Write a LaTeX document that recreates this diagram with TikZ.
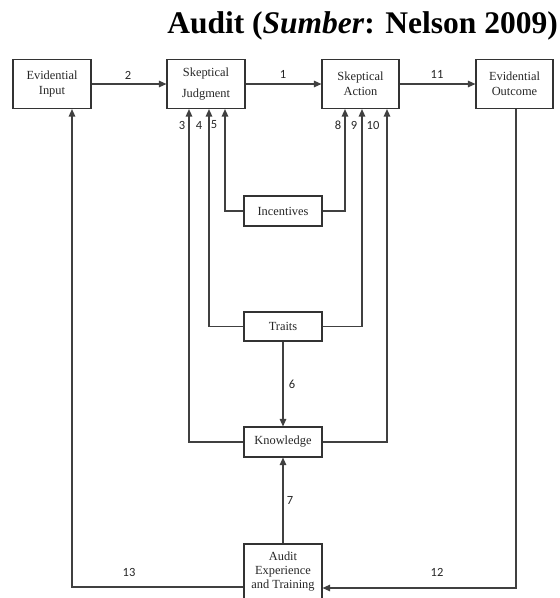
\documentclass[tikz,border=0pt]{standalone}
\usepackage{fontspec}
\setmainfont{Liberation Serif}
\newfontfamily\numfont{Carlito}
\usetikzlibrary{arrows.meta}

\tikzset{
  box/.style={draw=black!80, line width=1.1pt, rectangle, minimum width=78pt,
    inner sep=0pt, align=center, text=black!85, font=\fontsize{12.4}{14.5}\selectfont},
  arr/.style={draw=black!75, line width=1.3pt,
    -{Triangle[length=7.5pt,width=6.5pt]}},
  num/.style={font=\numfont\fontsize{12.5}{14}\selectfont, text=black!85, inner sep=0pt},
}

\begin{document}
\begin{tikzpicture}[x=1pt,y=-1pt]
  \useasboundingbox (0,0) rectangle (560,598);
  \clip (0,0) rectangle (560,598);

  % title
  \node[anchor=base east, inner sep=0pt, font=\fontsize{31.5}{36}\selectfont\bfseries]
    (title) at (558,33) {Audit (\textit{Sumber}: Nelson 2009)};

  % top row
  \node[box, minimum height=49pt] (ei) at (52,84) {Evidential\\Input};
  \node[box, minimum height=49pt] (sj) at (206,84) {Skeptical\\[6pt]Judgment};
  \node[box, minimum height=49pt, minimum width=77pt] (sa) at (360.5,84) {Skeptical\\Action};
  \node[box, minimum height=49pt, minimum width=77pt] (eo) at (514.5,84) {Evidential\\Outcome};

  % middle column
  \node[box, minimum height=30pt] (inc) at (283,211) {Incentives};
  \node[box, minimum height=29pt] (tr) at (283,326.5) {Traits};
  \node[box, minimum height=30pt] (kn) at (283,442) {Knowledge};
  \node[box, minimum height=70pt] (au) at (283,579) {};
  \node[align=center, inner sep=0pt, text=black!85, font=\fontsize{12.4}{14}\selectfont]
    (autext) at (283,572) {Audit\\Experience\\and Training};

  % feedback corners
  \coordinate (c13) at (72,587);
  \coordinate (c12) at (516,588);

  % main chain
  \draw[arr] (ei.east) -- (sj.west);
  \draw[arr] (sj.east) -- (sa.west);
  \draw[arr] (sa.east) -- (eo.west);

  % incentives, traits, knowledge into judgment and action
  \draw[arr] (inc.west) -| ([xshift=19pt]sj.south);
  \draw[arr] (inc.east) -| ([xshift=-15.5pt]sa.south);
  \draw[arr] (tr.west) -| ([xshift=3pt]sj.south);
  \draw[arr] (tr.east) -| ([xshift=1.5pt]sa.south);
  \draw[arr] (kn.west) -| ([xshift=-17pt]sj.south);
  \draw[arr] (kn.east) -| ([xshift=26.5pt]sa.south);

  % traits to knowledge, experience to knowledge
  \draw[arr] (tr.south) -- (kn.north);
  \draw[arr] (au.north) -- (kn.south);

  % feedback loops
  \draw[arr] (au.west |- c13) -| ([xshift=20pt]ei.south);
  \draw[arr] ([xshift=1.5pt]eo.south) -- (c12) -- (au.east |- c12);

  % connector numbers
  \node[num] (n2) at (128,75) {2};
  \node[num] (n1) at (283,74) {1};
  \node[num] (n11) at (437,74) {11};
  \node[num] (n3) at (182,125) {3};
  \node[num] (n4) at (199,125) {4};
  \node[num] (n5) at (214,125) {5};
  \node[num] (n8) at (338,125) {8};
  \node[num] (n9) at (354,125) {9};
  \node[num] (n10) at (373,125) {10};
  \node[num] (n6) at (292,384) {6};
  \node[num] (n7) at (290,500) {7};
  \node[num] (n13) at (129,572) {13};
  \node[num] (n12) at (437,572) {12};
\end{tikzpicture}
\end{document}
